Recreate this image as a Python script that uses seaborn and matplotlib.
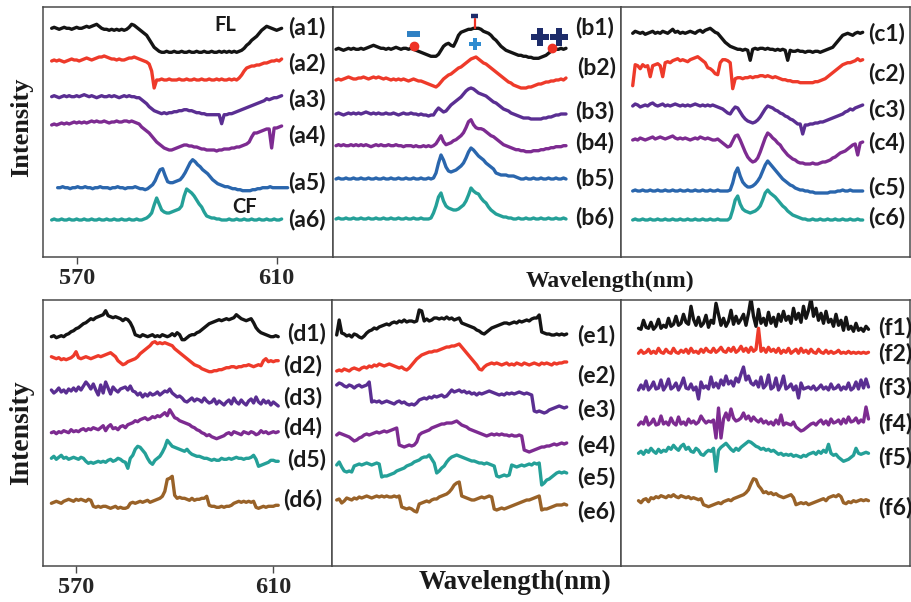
import numpy as np
import pandas as pd
import matplotlib
matplotlib.use("Agg")
import matplotlib.pyplot as plt
import seaborn as sns

# ---------------- data (relative intensity, arbitrary units) ----------------
wavelength = np.arange(565.0, 611.01, 0.5)   # nm sample positions (93)
a5_shift_nm = 1.2

a1 = [0,1,0,-1,0,1,0,0,-1,0, 1,0,0,1,2,1,2,3,4,2, 0,-1,-1,-2,-1,-2,-1,-2,-1,-2,
      -1,1,4,3,1,-1,-3,-5,-7,-11, -15,-19,-21,-23,-24,-24,-23,-24,-24,-23,
      -24,-24,-23,-24,-24,-23,-24,-24,-23,-24, -24,-23,-24,-24,-23,-24,-24,-23,-24,-23,
      -24,-23,-24,-23,-24,-23,-22,-20,-17,-15, -12,-10,-8,-5,-2,0,2,1,0,-1, -2,-1,0]
a2 = [0,1,0,1,0,-1,0,1,2,1, 1,0,1,2,3,2,1,2,3,4, 4,5,4,3,2,2,1,2,1,1,
      2,3,3,4,3,2,1,0,-1,-3, -10,-27,-19,-19,-18,-19,-19,-18,-19,-19,
      -19,-18,-19,-19,-18,-19,-19,-18,-19,-19, -18,-19,-19,-18,-19,-19,-18,-19,-18,-19,
      -19,-18,-19,-18,-19,-17,-14,-10,-7,-6, -5,-5,-4,-4,-3,-2,-2,-1,0,0, 1,0,2]
a3 = [0,1,0,-1,0,1,0,1,0,0, 1,0,1,2,1,0,1,0,-1,0, 1,0,0,1,0,1,0,-1,0,1,
      0,1,0,0,-1,-1,-3,-5,-7,-10, -12,-14,-15,-16,-17,-16,-17,-16,-16,-15,
      -15,-14,-14,-13,-13,-14,-14,-15,-16,-16, -17,-17,-18,-18,-18,-18,-18,-18,-27,-18,
      -18,-17,-17,-16,-15,-14,-13,-12,-11,-10, -9,-8,-7,-6,-5,-4,-2,-3,-2,-1, -1,0,1]
a4 = [0,1,0,1,2,1,2,1,2,3, 2,3,2,3,2,3,4,3,4,3, 3,4,3,2,3,3,4,3,3,4,
      4,3,4,3,2,1,-2,-4,-6,-8, -11,-14,-17,-19,-21,-23,-24,-25,-25,-24,
      -23,-22,-21,-20,-20,-21,-21,-22,-22,-23, -24,-24,-25,-25,-25,-25,-26,-25,-25,-24,
      -24,-24,-23,-23,-22,-22,-21,-20,-19,-17, -12,-8,-8,-7,-6,-5,-4,-4,-23,-3, -3,-2,-1]
a5 = [0,0,1,0,0,-1,0,0,1,0, 0,1,0,0,-1,0,0,1,0,0, 0,-1,0,0,1,0,0,-1,0,0,
      0,1,0,-1,-1,-2,-1,1,3,7, 13,18,19,12,6,5,5,6,7,8,
      11,15,20,25,28,26,23,21,18,16, 14,11,8,6,4,3,2,1,1,0,
      -1,-1,-2,-2,-3,-3,-3,-3,-2,-2, -1,-1,0,0,0,1,0,0,0,0, 0,0,0]
a6 = [0,1,0,0,1,0,0,1,0,0, 1,0,0,1,0,0,1,0,0,1, 0,0,1,0,0,1,0,0,1,0,
      0,1,0,0,1,0,0,1,2,4, 7,15,22,16,10,8,7,7,8,9,
      10,11,14,24,31,29,27,24,20,16, 13,8,4,3,2,2,1,1,0,0,
      0,1,0,0,1,0,0,1,0,0, 1,0,0,1,0,0,1,0,0,1, 0,0,1]

b1 = [0,1,0,-1,0,1,0,1,0,0, 1,0,1,2,3,4,3,2,1,1, 0,1,0,1,2,1,0,1,1,0,
      1,0,-1,-2,-3,-4,-5,-6,-7,-7, -7,-5,-1,3,5,6,4,3,8,14,
      17,18,19,20,20,21,21,21,20,18, 17,16,14,11,9,6,3,1,-1,-2,
      -3,-4,-5,-6,-6,-7,-7,-8,-8,-9, -9,-9,-8,-7,-6,-4,-2,-1,0,0, 1,0,1]
b2 = [0,1,0,1,2,3,2,1,1,2, 2,3,2,1,2,3,2,3,2,1, 2,1,0,1,0,1,0,1,0,-1,
      0,1,0,-1,-1,-2,-3,-4,-5,-6, -7,-5,-2,1,3,5,6,8,10,12,
      13,15,17,19,21,22,23,21,19,17, 16,14,12,10,8,6,4,2,0,-2,
      -3,-5,-6,-7,-8,-8,-8,-7,-7,-6, -5,-4,-4,-3,-2,-2,-1,-1,0,0, 1,0,2]
b3 = [0,1,0,-1,0,1,0,1,0,1, 0,1,2,1,0,1,0,1,0,0, 1,0,0,1,0,-1,0,1,0,0,
      1,0,0,-1,0,-1,-1,-2,-1,-1, 3,6,4,2,3,6,9,11,13,15,
      17,20,23,25,26,25,23,21,20,19, 18,16,14,12,11,9,7,5,4,3,
      1,0,-1,-2,-3,-4,-4,-4,-5,-5, -5,-5,-5,-4,-4,-3,-3,-2,-1,-1, 0,0,0]
b4 = [0,1,0,1,0,0,1,0,1,0, 1,0,1,0,-1,0,1,0,1,0, 0,1,0,0,1,0,0,-1,0,0,
      0,-1,0,-1,-1,0,-1,0,-1,0, 2,6,10,4,1,2,3,5,6,8,
      10,13,18,24,26,21,18,17,17,16, 14,12,10,9,7,5,3,1,0,-1,
      -2,-3,-4,-4,-5,-5,-6,-6,-6,-5, -5,-5,-4,-4,-3,-3,-2,-2,-1,-1, -1,0,0]
b5 = [0,1,0,0,1,0,0,1,0,0, 1,0,0,1,0,0,1,0,0,1, 0,0,1,0,0,1,0,0,1,0,
      0,1,0,0,1,0,0,1,0,1, 6,16,24,19,12,8,7,8,9,11,
      13,16,21,27,31,29,26,23,21,19, 16,14,12,10,6,5,4,4,4,3,
      3,3,2,1,0,0,1,0,0,1, 0,0,1,0,0,1,0,0,1,0, 0,1,0]
b6 = [0,1,0,0,1,0,0,1,0,0, 1,0,0,1,0,0,1,0,0,1, 0,0,1,0,0,1,0,0,1,0,
      0,1,0,0,1,0,0,0,1,6, 13,22,26,18,13,11,10,9,9,10,
      12,14,18,24,31,28,26,25,21,18, 16,12,9,7,5,4,3,2,2,1,
      1,0,0,1,0,0,1,0,0,1, 0,0,1,0,0,1,0,0,1,0, 0,1,0]

c1 = [0,2,1,0,1,-1,0,1,2,0, 1,0,2,1,0,2,4,1,2,0, 1,0,1,2,1,0,2,3,1,3,
      4,5,3,1,0,-3,-6,-9,-11,-13, -14,-15,-16,-16,-17,-16,-17,-27,-16,-15,
      -16,-15,-15,-16,-15,-16,-16,-17,-16,-17, -16,-17,-27,-17,-18,-18,-17,-18,-18,-19,
      -18,-18,-19,-18,-18,-19,-18,-17,-16,-15, -14,-11,-8,-5,-2,-1,0,-1,-2,0, 1,0,1]
c2 = [-19,2,1,-2,2,0,1,-10,1,2, 3,1,-10,4,5,4,6,7,8,6, 7,6,5,7,8,9,10,8,6,4,
      -1,-2,-4,-7,-8,4,7,7,6,4, -22,-12,-11,-11,-12,-11,-11,-10,-11,-10,
      -10,-9,-9,-10,-9,-10,-11,-10,-11,-12, -13,-13,-14,-14,-15,-15,-15,-16,-16,-16,
      -16,-16,-16,-15,-15,-14,-13,-12,-10,-8, -6,-4,-2,0,2,3,4,4,5,6, 8,6,7]
c3 = [0,2,1,-1,0,1,0,2,3,1, 0,1,2,0,1,0,1,2,1,0, 1,0,1,0,1,2,1,0,1,0,
      1,0,1,0,-1,-2,-3,-5,-7,-8, -4,-1,-2,-6,-10,-13,-15,-16,-17,-16,
      -14,-11,-7,-3,0,-1,-2,-4,-5,-7, -8,-10,-11,-13,-14,-16,-18,-18,-28,-19,
      -19,-18,-18,-17,-17,-16,-16,-15,-14,-13, -12,-11,-10,-9,-8,-6,-5,-3,-4,-2, -1,0,1]
c4 = [0,1,0,2,1,0,1,2,3,1, 2,3,2,1,2,3,4,2,1,2, 1,2,1,0,1,2,1,3,2,1,
      2,1,0,0,1,-1,-3,-5,-7,-6, -1,4,5,0,-6,-12,-17,-20,-22,-21,
      -18,-12,-5,2,7,5,2,0,-3,-5, -9,-12,-15,-17,-19,-20,-22,-23,-23,-24,
      -24,-24,-23,-24,-24,-23,-22,-22,-21,-20, -18,-17,-15,-13,-12,-11,-9,-7,-5,-4, -15,-3,-2]
c5 = [0,1,0,0,1,0,0,1,0,0, 1,0,0,1,0,0,1,0,0,1, 0,0,1,0,0,1,0,0,1,0,
      0,1,0,0,1,0,0,0,0,1, 8,18,23,15,9,6,4,4,5,7,
      10,14,20,26,30,27,24,21,18,15, 12,10,8,6,5,3,2,1,1,0,
      0,-1,-1,-2,-2,-2,-2,-2,-2,-1, -1,-1,0,0,1,0,0,1,0,0, 0,0,0]
c6 = [0,1,0,0,1,0,0,1,0,0, 1,0,0,1,0,0,1,0,0,1, 0,0,1,0,0,1,0,0,1,0,
      0,1,0,0,1,0,0,0,0,2, 10,20,24,16,11,9,8,7,8,9,
      11,14,20,27,30,27,25,23,20,17, 14,12,9,7,5,4,3,2,1,1,
      0,0,1,0,0,1,0,0,1,0, 0,1,0,0,1,0,0,1,0,0, 1,0,0]

d1 = [0,1,-1,0,1,0,2,3,5,6, 8,9,11,13,14,16,18,17,19,20, 21,22,26,21,20,19,20,19,18,16,
      18,17,14,9,2,1,0,2,1,0, 1,2,0,1,0,2,1,0,1,3,
      1,4,2,-3,-3,-1,1,2,2,4, 5,7,9,11,13,14,15,16,17,16,
      17,18,17,18,19,22,20,18,17,16, 17,18,14,9,6,4,3,2,1,0, 0,1,0]
d2 = [0,-1,-2,-1,-3,-2,-3,-2,-1,1, 5,-1,-2,-1,0,-1,-2,-1,0,1, 0,1,2,3,4,2,0,-4,-6,-8,
      -7,-5,-4,-3,-2,0,3,5,7,9, 11,14,15,13,14,13,14,13,12,11,
      8,6,4,2,0,-2,-4,-6,-8,-9, -10,-12,-13,-14,-15,-15,-14,-14,-13,-13,
      -12,-11,-11,-10,-10,-11,-10,-10,-9,-9, -8,-9,-10,-9,-8,-9,-4,-2,-5,-4, -5,-4,-4]
d3 = [0,-3,-1,2,-2,0,-3,1,-1,2, -1,3,0,4,8,5,1,6,0,-5, 5,-3,8,2,-4,3,0,-2,1,2,
      3,0,4,-1,-2,-5,-3,-7,-4,-6, -3,-5,-4,-2,-5,-3,-1,-2,1,-3,
      -5,-7,-6,-8,-11,-12,-10,-8,-11,-9, -10,-12,-8,-11,-13,-12,-9,-14,-11,-13,
      -15,-12,-10,-14,-8,-12,-14,-10,-13,-15, -11,-9,-13,-7,-12,-14,-10,-13,-11,-15, -12,-14,-16]
d4 = [0,1,-1,1,0,2,1,0,3,1, 2,1,3,4,2,4,3,5,4,3, 5,7,2,6,8,4,5,3,6,7,
      5,8,9,10,12,11,13,14,15,13, 14,16,15,17,16,18,20,17,23,19,
      15,14,12,11,10,9,8,6,5,3, 2,0,-1,-3,-2,-4,-5,-6,-5,-4,
      -3,-1,0,-2,1,0,-1,-2,1,0, -1,1,0,-2,-1,2,0,1,-1,0, 1,0,1]
d5 = [0,2,-1,1,3,0,1,-1,0,1, 0,-1,1,0,-3,-5,-4,-5,-4,-3, -4,-3,-4,-2,-1,-3,-2,0,-1,-3,
      -4,-10,0,3,9,12,11,8,5,0, -4,-6,-2,0,2,6,11,18,15,12,
      11,10,9,8,7,9,6,4,3,2, 2,1,0,0,-1,-2,-1,-2,-2,0,
      -1,-1,0,-1,0,1,0,0,-1,0, 0,1,3,-1,-8,-7,-6,-5,-4,-2, -2,-3,-3]
d6 = [0,1,2,1,0,2,3,4,3,2, 4,3,4,3,2,4,3,-3,-4,-3, -4,-3,-3,-4,-5,-4,-3,-5,-4,-5,
      -5,-4,0,1,0,1,2,1,2,3, 1,2,3,4,5,7,12,24,25,27,
      8,5,6,5,5,4,3,5,3,4, 4,5,5,7,-2,-3,-3,-4,-4,-3,
      -4,-3,-3,-2,0,1,2,1,2,1, 2,1,2,-4,-5,-4,-3,-4,-3,-3, -3,-2,-2]

e1 = [0,15,2,1,-1,0,-2,1,0,-2, -3,-1,2,4,5,7,6,8,9,10, 11,10,12,13,12,14,13,15,13,14,
      14,13,14,25,24,14,16,14,15,17, 17,16,17,16,18,16,17,15,16,17,
      12,11,10,9,8,7,5,4,2,1, 3,5,7,8,9,10,11,12,12,11,
      12,13,12,14,13,14,15,14,16,17, 17,20,3,2,1,1,0,0,1,0, 1,0,1]
e2 = [0,1,0,2,1,0,2,3,2,1, 3,4,3,5,4,6,5,7,6,5, 6,7,6,5,4,3,4,2,1,3,
      6,9,12,14,16,17,18,19,19,20, 20,21,22,23,24,24,25,25,26,27,
      24,21,18,15,12,9,6,2,1,4, 6,7,8,7,8,7,6,7,8,6,
      7,6,8,7,6,8,7,6,7,8, 7,6,8,7,8,7,6,8,7,8, 8,9,9]
e3 = [0,2,1,-1,-2,0,-1,-3,-1,0, -2,-1,0,3,-17,-16,-17,-16,-18,-17, -16,-17,-18,-19,-17,-16,-18,-17,-19,-20,
      -19,-20,-18,-15,-14,-13,-14,-12,-13,-11, -12,-11,-10,-12,-11,-8,-5,-7,-6,-5,
      -7,-6,-8,-7,-9,-8,-10,-8,-9,-8, -7,-6,-7,-8,-9,-10,-9,-10,-8,-9,
      -8,-9,-8,-7,-8,-9,-8,-9,-10,-26, -27,-26,-27,-28,-27,-25,-24,-23,-22,-21, -22,-23,-22]
e4 = [0,2,1,0,-1,-2,-4,-6,-5,-3, -2,0,1,0,1,2,3,2,3,4, 3,4,5,6,7,-10,-11,-12,-11,-10,
      -11,-10,-7,0,2,3,4,5,7,8, 9,10,11,11,12,12,12,13,14,12,
      10,9,8,6,5,4,3,2,1,0, -1,0,1,0,1,0,1,0,0,-1,
      0,-1,-1,0,-1,-15,-16,-17,-16,-15, -14,-13,-12,-12,-11,-11,-10,-9,-10,-9, -8,-9,-8]
e5 = [0,3,-2,-6,-7,-6,-7,-1,0,1, 0,1,2,1,0,1,2,1,-12,-11, -11,-10,-9,-8,-6,-5,-4,-3,-1,0,
      1,3,4,5,7,8,8,10,6,2, -8,-6,-3,-1,3,6,8,9,10,9,
      8,7,6,5,4,4,3,2,2,1, 2,1,0,-1,-11,-12,-11,-10,-11,-10,
      0,-1,-2,-1,0,-1,0,1,0,2, 1,2,-20,-18,-15,-14,-12,-10,-8,-7, -8,-7,-8]
e6 = [0,1,-3,-1,2,1,0,2,1,3, 2,3,4,3,2,3,4,3,4,3, 4,3,3,4,3,4,-7,-8,-9,-8,
      -9,-11,-12,-4,-3,-2,-1,-2,0,1, 1,3,4,5,6,8,11,15,17,18,
      4,3,2,1,0,0,1,2,3,2, 3,4,3,-9,-10,-9,-8,-9,-8,-7,
      -6,-5,-4,-3,-2,-1,0,0,1,2, 3,4,-10,-9,-9,-8,-7,-6,-5,-5, -5,-4,-5]

f1 = [0,-1,8,1,0,6,-1,2,9,0, 3,1,10,2,4,12,3,5,14,6, 4,22,9,3,11,2,5,13,1,8,
      5,25,14,3,10,2,7,18,4,12, 5,9,14,3,15,30,12,2,19,5,
      10,3,16,5,11,2,14,7,17,8, 12,5,20,9,15,6,22,10,18,30,
      12,20,8,15,5,17,6,9,2,14, 3,8,-2,11,-1,2,-3,5,-2,0, -3,2,-1]
f2 = [0,3,0,1,4,0,2,0,5,1, 0,4,1,0,5,1,0,3,1,4, 0,5,1,2,0,4,1,5,2,1,
      5,1,3,6,2,1,5,2,6,1, 3,7,2,5,1,6,2,4,25,2,
      5,1,6,2,4,1,5,0,3,1, 5,0,2,4,0,5,1,3,0,4,
      1,0,4,1,0,3,0,2,0,1, 3,0,1,0,2,0,1,0,1,0, 1,0,1]
f3 = [0,5,1,9,0,3,8,1,2,10, 0,4,11,1,3,7,0,5,12,2, 1,6,0,3,-9,8,2,4,1,13,
      3,7,2,10,5,14,6,9,4,12, 8,16,23,10,14,7,5,9,3,13,
      2,5,15,1,3,12,0,5,14,1, 3,6,0,4,-8,7,1,2,3,1,
      4,0,2,5,1,3,0,6,1,2, 5,0,3,1,7,0,2,8,1,10, 2,11,3]
f4 = [0,3,1,8,0,2,6,0,1,9, 1,3,0,7,2,0,8,1,3,0, 6,2,4,1,3,9,5,2,4,3,
      5,-13,17,-13,6,12,5,16,7,4, 5,7,12,6,9,4,8,5,3,6,
      2,4,1,3,0,5,1,10,0,2, 1,0,3,-2,-4,-6,-5,-3,-1,1,
      2,0,3,5,1,4,0,6,2,3, 5,1,6,2,8,3,4,7,2,5, 3,18,6]
f5 = [0,2,-1,3,1,5,2,0,4,1, 3,2,6,4,8,5,3,7,9,4, 6,2,1,5,3,-1,-2,1,3,2,
      5,-18,3,6,8,10,7,4,2,5, 3,6,8,10,12,11,9,7,6,4,
      5,3,4,2,3,1,-1,0,-2,-1, -2,-1,-3,-2,-3,-4,-2,-3,-1,0,
      1,-1,2,0,3,1,9,0,-2,-1, -4,-6,-8,-7,-6,-4,-2,5,0,-1, 0,1,0]
f6 = [0,-2,1,2,-1,3,2,4,3,5, 4,3,5,4,6,4,3,5,4,3, 4,2,3,2,1,2,-4,-5,-6,-5,
      -4,-3,-2,-3,-1,0,1,0,2,3, 4,5,6,8,11,17,22,21,15,12,
      8,9,7,8,6,7,5,4,3,4, 5,6,3,-4,-3,-2,-3,-2,-4,-3,
      -2,-1,0,1,2,0,3,4,5,4, 6,4,-2,-3,-1,-2,0,-1,0,1, 0,1,0]

# stacking offsets of each trace within its panel (same units)
offsets_a = [228.7, 196.0, 160.3, 132.0, 69.3, 37.0]
offsets_b = [207.7, 177.0, 143.0, 111.3, 78.0, 38.0]
offsets_c = [223.7, 190.3, 151.0, 117.0, 66.0, 37.0]
offsets_d = [229.3, 209.3, 176.0, 133.3, 107.7, 62.7]
offsets_e = [231.0, 195.0, 181.0, 131.0, 101.0, 66.0]
offsets_f = [237.7, 212.7, 176.0, 141.0, 112.7, 65.3]

tick_values = [570, 610]
tick_labels = ["570", "610"]
b1_marker_wl = [580.5, 608.2]

# ---------------- style ----------------
sns.set_theme(style="white")
plt.rcParams['font.family'] = ['DejaVu Sans']
SERIF = ['Liberation Serif', 'DejaVu Serif']
SANS = ['Lato', 'DejaVu Sans']

BLACK, RED = '#141414', '#ee3a2a'
PURPLE1, PURPLE2 = '#5a2e92', '#7d2b91'
BLUE, TEAL, BROWN = '#2a66ad', '#24a098', '#996228'
top_colors = [BLACK, RED, PURPLE1, PURPLE2, BLUE, TEAL]
bot_colors = [BLACK, RED, PURPLE1, PURPLE2, TEAL, BROWN]

W, H = 911, 602
fig = plt.figure(figsize=(W / 100, H / 100), dpi=100)

def fx(px):
    return px / W

def fy(py):
    return 1 - py / H

panels = {
    'a': dict(curves=[a1, a2, a3, a4, a5, a6], off=offsets_a, colors=top_colors,
              box=(43, 7, 333, 257), xlim=(563.27, 621.27), ylim=(0, 250)),
    'b': dict(curves=[b1, b2, b3, b4, b5, b6], off=offsets_b, colors=top_colors,
              box=(333, 7, 621, 257), xlim=(564.4, 622.0), ylim=(0, 250)),
    'c': dict(curves=[c1, c2, c3, c4, c5, c6], off=offsets_c, colors=top_colors,
              box=(621, 7, 910, 257), xlim=(562.66, 620.46), ylim=(0, 250)),
    'd': dict(curves=[d1, d2, d3, d4, d5, d6], off=offsets_d, colors=bot_colors,
              box=(43, 300, 332, 566), xlim=(563.3, 621.9), ylim=(0, 266)),
    'e': dict(curves=[e1, e2, e3, e4, e5, e6], off=offsets_e, colors=bot_colors,
              box=(332, 300, 621, 566), xlim=(564.06, 621.86), ylim=(0, 266)),
    'f': dict(curves=[f1, f2, f3, f4, f5, f6], off=offsets_f, colors=bot_colors,
              box=(621, 300, 910, 566), xlim=(561.5, 619.3), ylim=(0, 266)),
}

axes = {}
for name, p in panels.items():
    x0, y0, x1, y1 = p['box']
    ax = fig.add_axes([fx(x0), fy(y1), (x1 - x0) / W, (y1 - y0) / H])
    axes[name] = ax
    rows = []
    for i, (vals, off) in enumerate(zip(p['curves'], p['off'])):
        xs = wavelength + (a5_shift_nm if (name == 'a' and i == 4) else 0.0)
        rows.append(pd.DataFrame({'wavelength': xs,
                                  'intensity': np.asarray(vals, float) + off,
                                  'trace': f'{name}{i + 1}'}))
    df = pd.concat(rows, ignore_index=True)
    palette = {f'{name}{i + 1}': c for i, c in enumerate(p['colors'])}
    sns.lineplot(data=df, x='wavelength', y='intensity', hue='trace', palette=palette,
                 estimator=None, sort=False, legend=False, ax=ax, linewidth=2.4)
    ax.set_xlim(*p['xlim'])
    ax.set_ylim(*p['ylim'])
    ax.set_xlabel('')
    ax.set_ylabel('')
    ax.set_yticks([])
    for s in ax.spines.values():
        s.set_color('#4a4a4a')
        s.set_linewidth(1.1)
    if name in ('a', 'd'):
        ax.set_xticks(tick_values)
        ax.set_xticklabels(tick_labels, fontfamily=SERIF, fontweight='bold', fontsize=17.5)
        ax.tick_params(axis='x', direction='out', length=5, width=1, color='#4a4a4a',
                       pad=3, bottom=True)
    else:
        ax.set_xticks([])

# ---------------- b1 annotations ----------------
axb = axes['b']
b1_y = np.interp(b1_marker_wl, wavelength, np.asarray(b1, float) + offsets_b[0])
axb.plot(b1_marker_wl, b1_y + 3, 'o', color='#ee3124', ms=6, zorder=5)
axb.plot([579.2, 581.8], [223.5, 223.5], color='#2f80c3', lw=4.3, solid_capstyle='butt')
axb.plot([592.0, 593.3], [241.5, 241.5], color='#1d2c6a', lw=3.2, solid_capstyle='butt')
axb.plot([592.8, 592.8], [229, 238.5], color='#ee3124', lw=1.6)
axb.plot([592.7], [213], 'P', color='#2e8bd0', ms=8.5, mew=0)
axb.plot([605.7, 609.6], [220, 220], 'P', color='#1d2c6a', ms=13, mew=0, ls='none')

# ---------------- trace labels ----------------
label_pos = {
    'a': [(288, 28), (288, 63), (288, 99), (288, 135), (288, 183), (288, 220)],
    'b': [(575, 27), (577, 67), (575, 112), (575, 143), (575, 178), (575, 218)],
    'c': [(868, 33), (868, 73), (868, 110), (868, 143), (868, 187), (868, 218)],
    'd': [(287, 333), (283, 365), (283, 398), (283, 427), (287, 460), (283, 500)],
    'e': [(577, 335), (577, 375), (577, 410), (577, 445), (577, 477), (577, 512)],
    'f': [(878, 328), (878, 353), (878, 388), (878, 423), (878, 457), (878, 508)],
}
for name, plist in label_pos.items():
    for i, (px, py) in enumerate(plist):
        fig.text(fx(px), fy(py), f'({name}{i + 1})', ha='left', va='center',
                 fontfamily=SANS, fontweight='bold', fontsize=16.5, color='#1a1a1a')

fig.text(fx(225), fy(25), 'FL', ha='center', va='center', fontfamily=SANS,
         fontweight='bold', fontsize=14.5, color='#1a1a1a')
fig.text(fx(245), fy(207), 'CF', ha='center', va='center', fontfamily=SANS,
         fontweight='bold', fontsize=14.5, color='#1a1a1a')

# ---------------- axis titles ----------------
fig.text(fx(22), fy(127), 'Intensity', rotation=90, ha='center', va='center',
         fontfamily=SERIF, fontweight='bold', fontsize=19, color='#1a1a1a')
fig.text(fx(22), fy(433), 'Intensity', rotation=90, ha='center', va='center',
         fontfamily=SERIF, fontweight='bold', fontsize=20, color='#1a1a1a')
fig.text(fx(610), fy(281), 'Wavelength(nm)', ha='center', va='center',
         fontfamily=SERIF, fontweight='bold', fontsize=17, color='#1a1a1a')
fig.text(fx(515), fy(582), 'Wavelength(nm)', ha='center', va='center',
         fontfamily=SERIF, fontweight='bold', fontsize=19.5, color='#1a1a1a')

fig.savefig('out.png', dpi=100)
